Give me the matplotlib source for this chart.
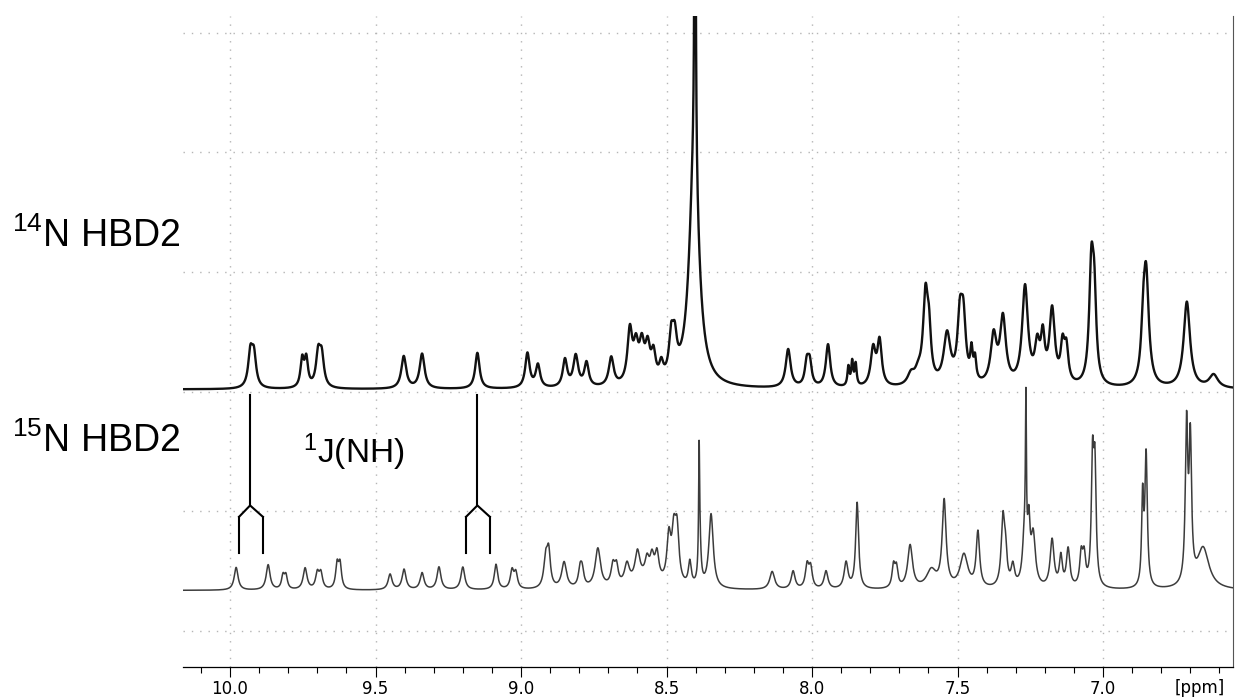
import numpy as np
import matplotlib
matplotlib.use("Agg")
import matplotlib.pyplot as plt
from matplotlib.ticker import MultipleLocator, FormatStrFormatter

plt.rcParams['font.family'] = ['Liberation Sans', 'DejaVu Sans']
plt.rcParams['mathtext.fontset'] = 'custom'
plt.rcParams['mathtext.rm'] = 'Liberation Sans'
plt.rcParams['mathtext.it'] = 'Liberation Sans'
plt.rcParams['mathtext.bf'] = 'Liberation Sans'

# peak tables: shift (ppm), height, half width (ppm)
n14_shift = [9.930, 9.918, 9.752, 9.738, 9.697, 9.685, 9.403, 9.340, 9.150,
             8.978, 8.942, 8.849, 8.812, 8.775, 8.690, 8.626, 8.605, 8.585,
             8.565, 8.545, 8.518, 8.484, 8.472, 8.405, 8.402,
             8.082, 8.018, 8.008, 7.945, 7.875, 7.862, 7.850, 7.790, 7.768,
             7.660, 7.635, 7.610, 7.598, 7.536, 7.492, 7.480, 7.452, 7.440,
             7.376, 7.344, 7.268, 7.226, 7.207, 7.175, 7.139, 7.126,
             7.040, 7.030, 6.862, 6.852, 6.712, 6.620]
n14_height = [0.28, 0.26, 0.23, 0.23, 0.27, 0.25, 0.27, 0.29, 0.30,
              0.29, 0.19, 0.23, 0.26, 0.20, 0.24, 0.44, 0.28, 0.29,
              0.28, 0.22, 0.13, 0.32, 0.28, 1.9, 5.0,
              0.32, 0.19, 0.19, 0.36, 0.16, 0.20, 0.18, 0.31, 0.37,
              0.09, 0.09, 0.72, 0.35, 0.42, 0.50, 0.50, 0.24, 0.18,
              0.40, 0.55, 0.82, 0.30, 0.36, 0.62, 0.30, 0.28,
              0.95, 0.62, 0.33, 0.92, 0.72, 0.11]
n14_width = [0.009, 0.009, 0.007, 0.007, 0.009, 0.009, 0.010, 0.010, 0.009,
             0.009, 0.009, 0.009, 0.010, 0.009, 0.010, 0.010, 0.010, 0.010,
             0.010, 0.009, 0.008, 0.009, 0.009, 0.020, 0.002,
             0.010, 0.008, 0.008, 0.009, 0.004, 0.004, 0.004, 0.010, 0.009,
             0.014, 0.014, 0.010, 0.008, 0.014, 0.010, 0.010, 0.005, 0.005,
             0.012, 0.012, 0.012, 0.010, 0.008, 0.011, 0.008, 0.008,
             0.009, 0.008, 0.008, 0.011, 0.013, 0.018]

n15_shift = [9.979, 9.869, 9.818, 9.808, 9.742, 9.700, 9.688, 9.632, 9.622,
             9.450, 9.402, 9.340, 9.282, 9.200, 9.086, 9.031, 9.018,
             8.915, 8.905, 8.852, 8.797, 8.790, 8.736, 8.684, 8.672, 8.636,
             8.600, 8.567, 8.550, 8.533, 8.492, 8.475, 8.464, 8.420,
             8.388, 8.386, 8.347, 8.137, 8.065, 8.017, 8.005, 7.952,
             7.883, 7.845, 7.720, 7.710, 7.663, 7.590, 7.546, 7.478, 7.430,
             7.344, 7.335, 7.310, 7.270, 7.265, 7.255, 7.240, 7.175, 7.145,
             7.120, 7.075, 7.065, 7.036, 7.028, 6.864, 6.852, 6.713, 6.700,
             6.656, 8.570]
n15_height = [0.19, 0.21, 0.11, 0.11, 0.18, 0.13, 0.13, 0.20, 0.20,
              0.13, 0.17, 0.14, 0.19, 0.19, 0.21, 0.15, 0.13,
              0.24, 0.28, 0.22, 0.14, 0.13, 0.33, 0.17, 0.15, 0.17,
              0.24, 0.14, 0.17, 0.22, 0.38, 0.38, 0.43, 0.20,
              0.9, 0.35, 0.62, 0.15, 0.15, 0.19, 0.17, 0.15,
              0.22, 0.72, 0.18, 0.16, 0.36, 0.15, 0.72, 0.28, 0.46,
              0.56, 0.24, 0.17, 0.40, 1.25, 0.45, 0.42, 0.40, 0.25,
              0.32, 0.26, 0.24, 1.0, 0.92, 0.72, 1.10, 1.30, 1.15,
              0.34, 0.09]
n15_width = [0.008, 0.008, 0.006, 0.006, 0.008, 0.007, 0.007, 0.006, 0.006,
             0.008, 0.008, 0.008, 0.008, 0.008, 0.007, 0.007, 0.007,
             0.008, 0.007, 0.010, 0.007, 0.007, 0.011, 0.008, 0.007, 0.010,
             0.010, 0.008, 0.008, 0.008, 0.008, 0.008, 0.008, 0.006,
             0.002, 0.005, 0.009, 0.010, 0.008, 0.007, 0.007, 0.008,
             0.008, 0.006, 0.006, 0.006, 0.010, 0.020, 0.008, 0.016, 0.007,
             0.007, 0.006, 0.007, 0.008, 0.002, 0.005, 0.009, 0.008, 0.006,
             0.007, 0.006, 0.006, 0.005, 0.005, 0.004, 0.005, 0.005, 0.005,
             0.024, 0.050]

n14_offset = 2.02
n15_offset = 0.34

# J(NH) splitting markers: (ppm of 14N peak, ppm of the two 15N lines)
j_centre = [9.931, 9.150]
j_lines = [(9.969, 9.887), (9.189, 9.107)]

xticks = [10.0, 9.5, 9.0, 8.5, 8.0, 7.5, 7.0]


def spectrum(ppm, shifts, heights, widths):
    y = np.zeros_like(ppm)
    for c, h, w in zip(shifts, heights, widths):
        y += h * w ** 2 / ((ppm - c) ** 2 + w ** 2)
    return y


ppm = np.linspace(10.17, 6.55, 6000)
top = n14_offset + spectrum(ppm, n14_shift, n14_height, n14_width)
bot = n15_offset + spectrum(ppm, n15_shift, n15_height, n15_width)

fig = plt.figure(figsize=(12.35, 6.99), dpi=100)
ax = fig.add_axes([0.1482, 0.0458, 0.8502, 0.9312])

ax.plot(ppm, top, color='#111111', lw=1.7)
ax.plot(ppm, bot, color='#3c3c3c', lw=1.1)

# splitting markers
for c, (l, r) in zip(j_centre, j_lines):
    ax.plot([c, c], [1.97, 1.05], color='black', lw=1.5)
    ax.plot([l, c, r], [0.955, 1.05, 0.955], color='black', lw=1.5)
    ax.plot([l, l], [0.955, 0.655], color='black', lw=1.5)
    ax.plot([r, r], [0.955, 0.655], color='black', lw=1.5)

ax.text(9.749, 1.405, r'$^{1}$J(NH)', fontsize=24, ha='left', va='baseline')

ax.set_xlim(10.1615, 6.5533)
ax.set_ylim(-0.30, 5.14)
ax.set_xticks(xticks)
ax.xaxis.set_minor_locator(MultipleLocator(0.1))
ax.xaxis.set_major_formatter(FormatStrFormatter('%.1f'))
ax.set_yticks(range(6))
ax.tick_params(axis='y', left=False, labelleft=False)
ax.tick_params(axis='x', which='major', direction='out', length=7.5, width=0.8, pad=2,
               labelsize=12, labelfontfamily='DejaVu Sans')
ax.tick_params(axis='x', which='minor', direction='out', length=4, width=0.8)
ax.grid(True, color='#b5b5b5', linestyle=(0, (1, 5)), linewidth=1.0)
for s in ['left', 'top']:
    ax.spines[s].set_visible(False)
ax.spines['right'].set_color('#555555')
ax.spines['bottom'].set_linewidth(0.9)

fig.text(1200 / 1235, 1 - 688 / 699, '[ppm]', fontsize=12, family='DejaVu Sans',
         ha='center', va='center')
fig.text(12 / 1235, 1 - 247 / 699, r'$^{14}$N HBD2', fontsize=27, ha='left', va='baseline')
fig.text(12 / 1235, 1 - 452 / 699, r'$^{15}$N HBD2', fontsize=27, ha='left', va='baseline')

fig.savefig('out.png', dpi=100)
